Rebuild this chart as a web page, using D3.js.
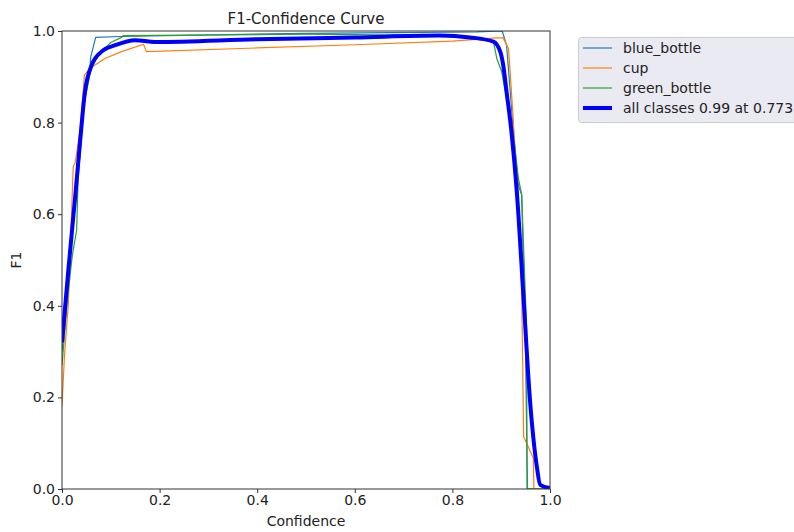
<!DOCTYPE html>
<html><head><meta charset="utf-8">
<script src="https://cdn.jsdelivr.net/npm/d3@7"></script>
<style>body{margin:0;background:#fff}svg{display:block}</style>
</head><body>
<svg id="chart" width="794" height="532"></svg>
<script>
const xTicks = [0, 0.2, 0.4, 0.6, 0.8, 1.0];
const yTicks = [0, 0.2, 0.4, 0.6, 0.8, 1.0];

const blueBottleConf = [0, 0.01, 0.02, 0.03, 0.04, 0.05, 0.057, 0.059, 0.069, 0.12, 0.5, 0.85, 0.902, 0.911, 0.925, 0.935, 0.942, 0.950, 0.953, 0.954, 1.0];
const blueBottleF1   = [0.30, 0.42, 0.55, 0.68, 0.80, 0.88, 0.918, 0.944, 0.986, 0.988, 0.995, 0.998, 1.0, 0.969, 0.78, 0.664, 0.642, 0.30, 0.05, 0, 0];

const cupConf = [0, 0.005, 0.013, 0.023, 0.027, 0.037, 0.046, 0.057, 0.088, 0.122, 0.167, 0.173, 0.4, 0.6, 0.8, 0.89, 0.904, 0.915, 0.921, 0.935, 0.942, 0.946, 0.966, 0.967, 1.0];
const cupF1   = [0.18, 0.29, 0.405, 0.704, 0.712, 0.784, 0.904, 0.918, 0.940, 0.955, 0.971, 0.955, 0.963, 0.970, 0.978, 0.985, 0.985, 0.962, 0.867, 0.631, 0.435, 0.114, 0.067, 0, 0];

const greenBottleConf = [0, 0.01, 0.02, 0.023, 0.030, 0.033, 0.045, 0.06, 0.08, 0.10, 0.122, 0.125, 0.5, 0.80, 0.836, 0.884, 0.891, 0.901, 0.925, 0.935, 0.942, 0.952, 0.953, 0.954, 1.0];
const greenBottleF1   = [0.27, 0.40, 0.50, 0.522, 0.565, 0.675, 0.84, 0.92, 0.955, 0.975, 0.986, 0.99, 0.993, 0.99, 0.984, 0.977, 0.94, 0.911, 0.773, 0.68, 0.642, 0.35, 0, 0, 0];

const allConf = [0, 0.013, 0.027, 0.037, 0.047, 0.061, 0.081, 0.109, 0.15, 0.19, 0.4, 0.6, 0.773, 0.836, 0.884, 0.898, 0.904, 0.911, 0.921, 0.932, 0.946, 0.959, 0.973, 0.980, 1.0];
const allF1   = [0.32, 0.478, 0.638, 0.758, 0.867, 0.926, 0.955, 0.969, 0.980, 0.976, 0.982, 0.986, 0.99, 0.986, 0.977, 0.955, 0.926, 0.867, 0.78, 0.649, 0.413, 0.194, 0.049, 0.009, 0.002];

const seriesNames = ["blue_bottle", "cup", "green_bottle", "all classes 0.99 at 0.773"];
const seriesColors = ["#1f77b4", "#ff7f0e", "#2ca02c", "#0000ff"];
const seriesWidths = [1.2, 1.2, 1.2, 4];

const series = [
  {conf: blueBottleConf, f1: blueBottleF1},
  {conf: cupConf, f1: cupF1},
  {conf: greenBottleConf, f1: greenBottleF1},
  {conf: allConf, f1: allF1}
];

const svg = d3.select("#chart");
const m = {l: 62, t: 31, r: 550, b: 489};
const x = d3.scaleLinear().domain([0, 1]).range([m.l, m.r]);
const y = d3.scaleLinear().domain([0, 1]).range([m.b, m.t]);
const font = "DejaVu Sans, sans-serif";

svg.append("defs").append("clipPath").attr("id", "clip")
  .append("rect").attr("x", m.l).attr("y", m.t).attr("width", m.r - m.l).attr("height", m.b - m.t);

const line = d3.line().x(d => x(d[0])).y(d => y(d[1]));
const g = svg.append("g").attr("clip-path", "url(#clip)");
series.forEach((s, i) => {
  const pts = s.conf.map((c, k) => [c, s.f1[k]]);
  g.append("path").datum(pts)
    .attr("d", line.curve(i === 3 ? d3.curveMonotoneX : d3.curveLinear))
    .attr("fill", "none").attr("stroke", seriesColors[i])
    .attr("stroke-width", seriesWidths[i]).attr("stroke-linejoin", "round");
});

const xAxis = svg.append("g").attr("transform", `translate(0,${m.b})`)
  .call(d3.axisBottom(x).tickValues(xTicks).tickFormat(d3.format(".1f")).tickSize(4).tickPadding(2));
const yAxis = svg.append("g").attr("transform", `translate(${m.l},0)`)
  .call(d3.axisLeft(y).tickValues(yTicks).tickFormat(d3.format(".1f")).tickSize(4).tickPadding(3));
[xAxis, yAxis].forEach(a => {
  a.select(".domain").remove();
  a.selectAll("text").attr("font-family", font).attr("font-size", 14).attr("fill", "#222");
  a.selectAll("line").attr("stroke", "#333");
});

svg.append("rect").attr("x", m.l).attr("y", m.t).attr("width", m.r - m.l).attr("height", m.b - m.t)
  .attr("fill", "none").attr("stroke", "#333").attr("stroke-width", 1);

svg.append("text").attr("x", 306).attr("y", 24).attr("text-anchor", "middle")
  .attr("font-family", font).attr("font-size", 15).attr("fill", "#222").text("F1-Confidence Curve");
svg.append("text").attr("x", (m.l + m.r) / 2).attr("y", 526).attr("text-anchor", "middle")
  .attr("font-family", font).attr("font-size", 14).attr("fill", "#222").text("Confidence");
svg.append("text").attr("transform", `translate(21,${(m.t + m.b) / 2}) rotate(-90)`).attr("text-anchor", "middle")
  .attr("font-family", font).attr("font-size", 14).attr("fill", "#222").text("F1");

const lg = svg.append("g");
lg.append("rect").attr("x", 578.5).attr("y", 37.5).attr("width", 230).attr("height", 85).attr("rx", 3)
  .attr("fill", "#eaeaf2").attr("stroke", "#cccccc");
seriesNames.forEach((n, i) => {
  const yy = 48 + i * 20;
  lg.append("line").attr("x1", 583).attr("x2", 612).attr("y1", yy).attr("y2", yy)
    .attr("stroke", seriesColors[i]).attr("stroke-width", seriesWidths[i]);
  lg.append("text").attr("x", 623).attr("y", yy + 5).attr("font-family", font).attr("font-size", 14)
    .attr("fill", "#222").text(n);
});
</script>
</body></html>
